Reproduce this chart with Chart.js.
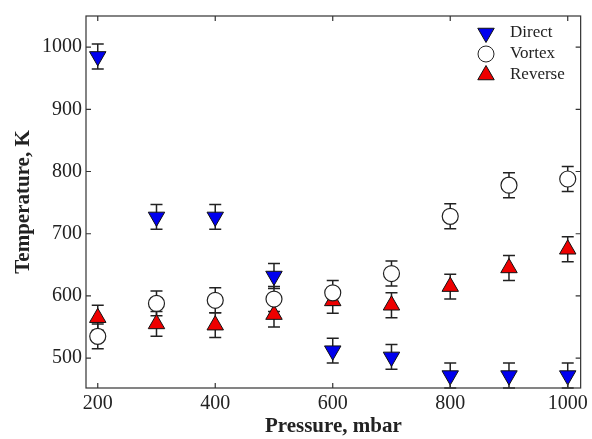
<!DOCTYPE html>
<html><head><meta charset="utf-8">
<script src="https://cdn.jsdelivr.net/npm/chart.js@4/dist/chart.umd.min.js"></script>
<style>html,body{margin:0;padding:0;background:#fff}#wrap{width:592px;height:439px}</style>
</head><body><div id="wrap"><canvas id="c" width="592" height="439"></canvas></div>
<script>
const pressures = [200, 300, 400, 500, 600, 700, 800, 900, 1000];
const directTemp = [985, 727, 727, 632, 512, 502, 472, 472, 472];
const directErr = [20, 20, 20, 20, 20, 20, 20, 20, 20];
const vortexTemp = [535, 588, 593, 595, 605, 636, 728, 778, 788];
const vortexErr = [20, 20, 20, 20, 20, 20, 20, 20, 20];
const reverseTemp = [565, 555, 553, 570, 592, 585, 615, 645, 675];
const reverseErr = [20, 20, 20, 20, 20, 20, 20, 20, 20];
const xTicks = [200, 400, 600, 800, 1000];
const yTicks = [500, 600, 700, 800, 900, 1000];
const seriesNames = ['Direct', 'Vortex', 'Reverse'];

const errs = [directErr, vortexErr, reverseErr];
function pts(ys){ return pressures.map((x,i)=>({x:x,y:ys[i]})); }

const errorBars = {
  id:'errorBars',
  beforeDatasetsDraw(chart){
    const ctx = chart.ctx, xs = chart.scales.x, ys = chart.scales.y;
    ctx.save();
    ctx.strokeStyle = '#222'; ctx.lineWidth = 1.5;
    chart.data.datasets.forEach((ds,di)=>{
      ds.data.forEach((p,i)=>{
        const e = errs[di][i];
        const px = xs.getPixelForValue(p.x);
        const y1 = Math.min(ys.getPixelForValue(p.y - e), ys.bottom);
        const y2 = ys.getPixelForValue(p.y + e);
        ctx.beginPath();
        ctx.moveTo(px, y1); ctx.lineTo(px, y2);
        if (ys.getPixelForValue(p.y - e) <= ys.bottom) { ctx.moveTo(px-6, y1); ctx.lineTo(px+6, y1); }
        ctx.moveTo(px-6, y2); ctx.lineTo(px+6, y2);
        ctx.stroke();
      });
    });
    ctx.restore();
  }
};

const frame = {
  id:'frame',
  afterDraw(chart){
    const ctx = chart.ctx, a = chart.chartArea, xs = chart.scales.x, ys = chart.scales.y;
    ctx.save();
    ctx.strokeStyle = '#333'; ctx.lineWidth = 1.2;
    ctx.strokeRect(a.left, a.top, a.right-a.left, a.bottom-a.top);
    ctx.beginPath();
    xTicks.forEach(v=>{ const px = xs.getPixelForValue(v);
      ctx.moveTo(px, a.bottom); ctx.lineTo(px, a.bottom-5);
      ctx.moveTo(px, a.top); ctx.lineTo(px, a.top+5); });
    yTicks.forEach(v=>{ const py = ys.getPixelForValue(v);
      ctx.moveTo(a.left, py); ctx.lineTo(a.left+5, py);
      ctx.moveTo(a.right, py); ctx.lineTo(a.right-5, py); });
    ctx.stroke();
    // legend
    const rows = [33, 54, 75];
    ctx.font = '17px "Liberation Serif"';
    ctx.textBaseline = 'middle'; ctx.textAlign = 'left';
    chart.data.datasets.forEach((ds,i)=>{
      const cx = 486, cy = rows[i];
      ctx.fillStyle = ds.backgroundColor; ctx.strokeStyle = ds.borderColor; ctx.lineWidth = 1;
      Chart.helpers.drawPoint(ctx, {pointStyle: ds.pointStyle, radius: ds.pointRadius, rotation: ds.rotation||0, borderWidth:1}, cx, cy);
      ctx.fillStyle = '#222';
      ctx.fillText(seriesNames[i], 510, cy);
    });
    ctx.restore();
  }
};

const tickFont = {family:'Liberation Serif', size:20};
const titleFont = {family:'Liberation Serif', size:21, weight:'bold'};

new Chart(document.getElementById('c'), {
  type:'scatter',
  data:{ datasets:[
    {label:seriesNames[0], data:pts(directTemp), pointStyle:'triangle', rotation:180, pointRadius:9.5, backgroundColor:'#0000ee', borderColor:'#111', borderWidth:1, pointHoverRadius:9.5},
    {label:seriesNames[1], data:pts(vortexTemp), pointStyle:'circle', pointRadius:8, backgroundColor:'#ffffff', borderColor:'#222', borderWidth:1.2, pointHoverRadius:8},
    {label:seriesNames[2], data:pts(reverseTemp), pointStyle:'triangle', pointRadius:9.5, backgroundColor:'#ee0000', borderColor:'#111', borderWidth:1, pointHoverRadius:9.5}
  ]},
  options:{
    responsive:false, animation:false,
    layout:{padding:{top:14, right:9, left:11, bottom:0}},
    plugins:{legend:{display:false}, tooltip:{enabled:false}},
    scales:{
      x:{type:'linear', min:180, max:1022,
        afterBuildTicks(s){ s.ticks = xTicks.map(v=>({value:v})); },
        afterFit(s){ s.height = 51; },
        grid:{display:false, drawTicks:false}, border:{display:false},
        ticks:{padding:4, color:'#222', font:tickFont, callback:v=>String(v)},
        title:{display:true, text:'Pressure, mbar', color:'#222', padding:{top:0,bottom:0}, font:titleFont}
      },
      y:{type:'linear', min:452, max:1050,
        afterBuildTicks(s){ s.ticks = yTicks.map(v=>({value:v})); },
        afterFit(s){ s.width = 75; },
        grid:{display:false, drawTicks:false}, border:{display:false},
        ticks:{padding:4, color:'#222', font:tickFont, callback:v=>String(v)},
        title:{display:true, text:'Temperature, K', color:'#222', padding:{top:0,bottom:0}, font:titleFont}
      }
    }
  },
  plugins:[errorBars, frame]
});
</script></body></html>
